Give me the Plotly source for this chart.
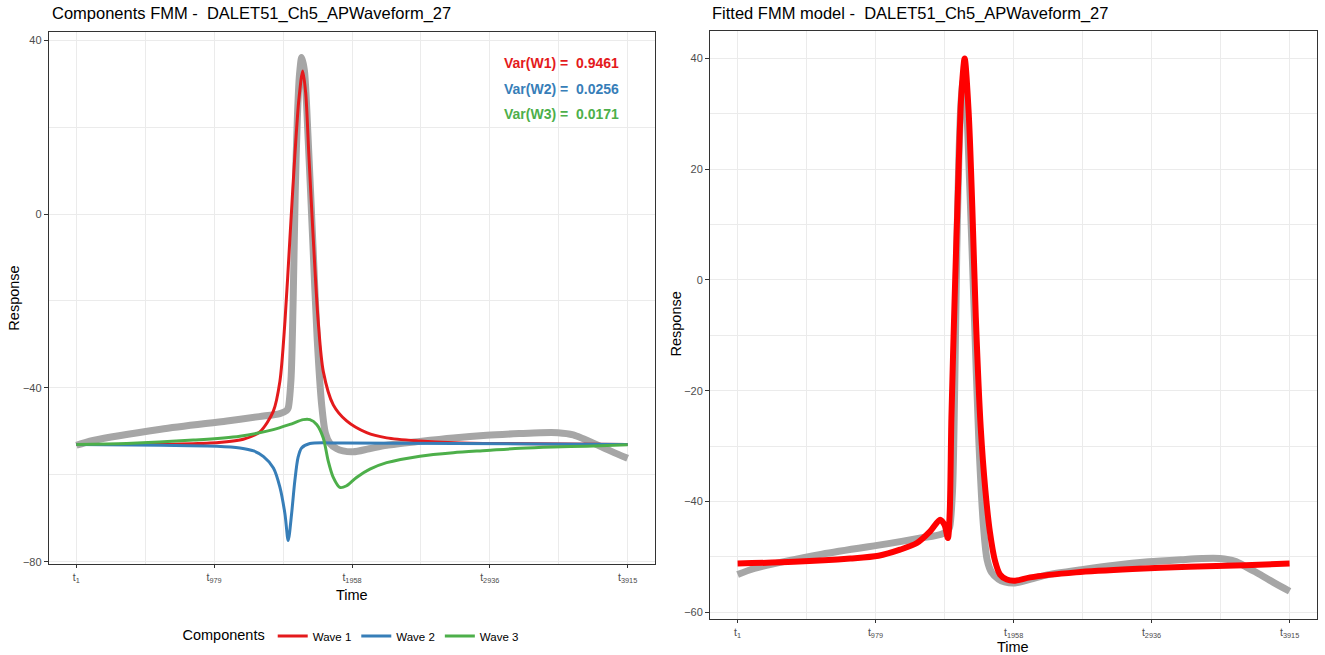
import plotly.graph_objects as go

# ---------------- data ----------------
tick_idx = [1, 979, 1958, 2936, 3915]
tick_lab = ["t<sub>1</sub>", "t<sub>979</sub>", "t<sub>1958</sub>", "t<sub>2936</sub>", "t<sub>3915</sub>"]

# observed signal (grey) - used in both panels
obs_t = [1, 120, 600, 1070, 1300, 1446, 1494, 1505, 1525, 1540, 1555, 1570, 1585, 1601,
         1620, 1647, 1679, 1711, 1743, 1770, 1802, 1850, 1894, 1967, 2080, 2204, 2440,
         2677, 2914, 3151, 3293, 3420, 3529, 3600, 3671, 3800, 3915]
obs_y = [-53.2, -52.1, -49.5, -47.6, -46.6, -45.9, -45.2, -44.6, -38.0, -20.0, 5.0, 22.0, 32.0, 36.0,
         33.0, 17.0, -5.9, -28.8, -44.0, -50.5, -52.8, -54.0, -54.5, -54.7, -54.0, -53.2, -52.3,
         -51.5, -50.9, -50.5, -50.3, -50.3, -50.8, -51.7, -52.7, -54.6, -56.2]

# component waves (left panel)
w1_t = [1, 600, 950, 1186, 1304, 1399, 1446, 1482, 1517, 1552, 1581, 1608, 1629, 1652, 1683,
        1718, 1754, 1825, 1920, 2062, 2204, 2440, 2677, 3000, 3915]
w1_y = [-53.0, -53.0, -52.7, -51.8, -50.1, -45.4, -38.5, -24.7, -5.7, 13.4, 26.4, 32.9, 27.9, 13.4, -5.7,
        -24.7, -36.2, -43.9, -47.6, -50.3, -51.5, -52.2, -52.6, -52.8, -53.0]

w2_t = [1, 600, 1000, 1162, 1260, 1330, 1400, 1446, 1482, 1505, 1529, 1552, 1575, 1600, 1659, 1900, 3915]
w2_y = [-53.0, -53.2, -53.4, -53.8, -54.5, -55.8, -58.4, -62.8, -69.0, -75.1, -69.0, -61.4, -56.0, -53.8, -52.8, -52.7, -53.0]

w3_t = [1, 358, 832, 1162, 1399, 1517, 1612, 1659, 1707, 1754, 1789, 1825, 1872, 1920, 1990,
        2085, 2204, 2440, 2677, 2914, 3151, 3387, 3624, 3915]
w3_y = [-53.0, -52.8, -52.0, -51.1, -49.6, -48.4, -47.3, -47.3, -48.4, -51.5, -56.8, -60.6, -62.9, -62.5, -60.6,
        -58.7, -57.2, -55.7, -54.9, -54.4, -53.9, -53.6, -53.4, -53.1]

# fitted FMM model (right panel)
fit_t = [1, 400, 800, 1000, 1153, 1272, 1366, 1437, 1468, 1492, 1505, 1517, 1540, 1564, 1587, 1611,
         1640, 1665, 1690, 1725, 1758, 1790, 1827, 1862, 1910, 1969, 2075, 2400, 2800, 3200, 3600, 3915]
fit_y = [-51.2, -50.9, -50.3, -49.8, -48.7, -47.5, -45.4, -43.3, -44.2, -46.6, -42.0, -25.0, -3.3, 16.7, 33.3, 40.0,
         30.0, 13.3, -6.7, -26.7, -38.0, -45.5, -50.8, -53.2, -54.1, -54.3, -53.7, -52.8, -52.2, -51.8, -51.5, -51.2]

wave_names = ["Wave 1", "Wave 2", "Wave 3"]
var_labels = ["Var(W1) =  0.9461", "Var(W2) =  0.0256", "Var(W3) =  0.0171"]

# ---------------- styling ----------------
FONT = "Liberation Sans, Arial, sans-serif"
GREY = "#A6A6A6"
COLS = ["#E41A1C", "#377EB8", "#4DAF4A"]
FIT_COL = "#FF0000"
GRID = "#EBEBEB"
AX = "#333333"
W, H = 1325, 655

fig = go.Figure()

fig.add_trace(go.Scatter(x=obs_t, y=obs_y, mode="lines", line=dict(color=GREY, width=7, shape="spline", smoothing=0.8),
                         showlegend=False, xaxis="x", yaxis="y", hoverinfo="skip"))
for t, y, c, n in zip([w1_t, w2_t, w3_t], [w1_y, w2_y, w3_y], COLS, wave_names):
    fig.add_trace(go.Scatter(x=t, y=y, mode="lines", name=n, line=dict(color=c, width=3, shape="spline", smoothing=0.8),
                             xaxis="x", yaxis="y"))

fig.add_trace(go.Scatter(x=obs_t, y=obs_y, mode="lines", line=dict(color=GREY, width=7, shape="spline", smoothing=0.8),
                         showlegend=False, xaxis="x2", yaxis="y2", hoverinfo="skip"))
fig.add_trace(go.Scatter(x=fit_t, y=fit_y, mode="lines", line=dict(color=FIT_COL, width=6, shape="spline", smoothing=0.8),
                         showlegend=False, xaxis="x2", yaxis="y2"))

xr = [1 - 195.7, 3915 + 195.7]
minor_x = [490, 1468.5, 2447, 3425.5]

def xaxis(domain, anchor):
    return dict(domain=domain, anchor=anchor, range=xr, tickmode="array", tickvals=tick_idx, ticktext=tick_lab,
                showgrid=True, gridcolor=GRID, gridwidth=1, zeroline=False,
                showline=True, mirror=True, linecolor=AX, linewidth=1,
                ticks="outside", ticklen=3, tickcolor=AX, tickwidth=1,
                tickfont=dict(family=FONT, size=10.5, color="#4D4D4D"),
                minor=dict(tickmode="array", tickvals=minor_x, showgrid=True, gridcolor=GRID, gridwidth=0.6, ticks=""))

def yaxis(domain, anchor, rng, major, minor):
    return dict(domain=domain, anchor=anchor, range=rng, tickmode="array", tickvals=major,
                showgrid=True, gridcolor=GRID, gridwidth=1, zeroline=False,
                showline=True, mirror=True, linecolor=AX, linewidth=1,
                ticks="outside", ticklen=4, tickcolor=AX, tickwidth=1,
                tickfont=dict(family=FONT, size=11, color="#4D4D4D"),
                minor=dict(tickmode="array", tickvals=minor, showgrid=True, gridcolor=GRID, gridwidth=0.6, ticks=""))

lx0, lx1 = 48.8 / W, 655.2 / W
ly0, ly1 = 1 - 567 / H, 1 - 32 / H
rx0, rx1 = 710 / W, 1317.2 / W
ry0, ry1 = 1 - 622.3 / H, 1 - 31.5 / H

fig.update_layout(
    width=W, height=H, margin=dict(l=0, r=0, t=0, b=0),
    paper_bgcolor="white", plot_bgcolor="white",
    font=dict(family=FONT, color="black"),
    xaxis=xaxis([lx0, lx1], "y"),
    yaxis=yaxis([ly0, ly1], "x", [-80.6, 41.9], [-80, -40, 0, 40], [-60, -20, 20]),
    xaxis2=xaxis([rx0, rx1], "y2"),
    yaxis2=yaxis([ry0, ry1], "x2", [-61.3, 44.9], [-60, -40, -20, 0, 20, 40], [-50, -30, -10, 10, 30]),
    legend=dict(orientation="h", x=352 / W, xanchor="center", y=1 - 639 / H, yanchor="middle",
                title=dict(text="Components", side="left", font=dict(family=FONT, size=14.5, color="black")),
                font=dict(family=FONT, size=11.5, color="black"), itemwidth=30, bgcolor="rgba(0,0,0,0)"),
    showlegend=True,
)

ann = []
# titles
ann.append(dict(text="Components FMM -  DALET51_Ch5_APWaveform_27", xref="paper", yref="paper",
                x=50 / W, y=1 - 14 / H, xanchor="left", yanchor="middle", showarrow=False,
                font=dict(family=FONT, size=16.5, color="black")))
ann.append(dict(text="Fitted FMM model -  DALET51_Ch5_APWaveform_27", xref="paper", yref="paper",
                x=710 / W, y=1 - 14 / H, xanchor="left", yanchor="middle", showarrow=False,
                font=dict(family=FONT, size=16.5, color="black")))
# axis titles
for x, y in [(352, 598), (1013, 650)]:
    ann.append(dict(text="Time", xref="paper", yref="paper", x=x / W, y=1 - y / H, xanchor="center", yanchor="middle",
                    showarrow=False, font=dict(family=FONT, size=14.5, color="black")))
for x, y in [(14, 300), (676, 326)]:
    ann.append(dict(text="Response", xref="paper", yref="paper", x=x / W, y=1 - y / H, xanchor="center", yanchor="middle",
                    textangle=-90, showarrow=False, font=dict(family=FONT, size=14.5, color="black")))
# variance labels
for lab, c, yy in zip(var_labels, COLS, [63, 89, 115]):
    ann.append(dict(text="<b>" + lab + "</b>", xref="paper", yref="paper", x=621 / W, y=1 - yy / H,
                    xanchor="right", yanchor="middle", showarrow=False,
                    font=dict(family=FONT, size=14, color=c)))
fig.update_layout(annotations=ann)

fig.write_html("out.html")
